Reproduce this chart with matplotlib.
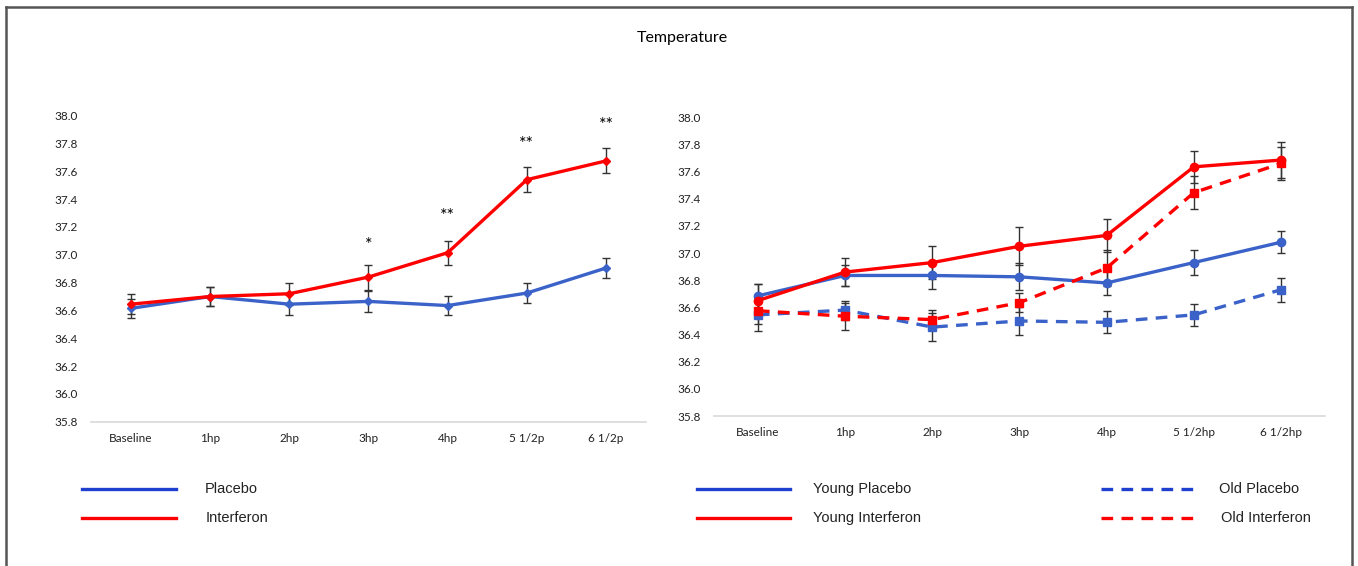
import numpy as np
import matplotlib.pyplot as plt
from matplotlib.lines import Line2D

# --- dane ---
left_labels = ['Baseline', '1hp', '2hp', '3hp', '4hp', '5 1/2p', '6 1/2p']
right_labels = ['Baseline', '1hp', '2hp', '3hp', '4hp', '5 1/2hp', '6 1/2hp']

placebo = [36.615, 36.70, 36.645, 36.665, 36.635, 36.725, 36.905]
placebo_err = [0.07, 0.07, 0.075, 0.075, 0.07, 0.07, 0.07]
interferon = [36.645, 36.70, 36.72, 36.84, 37.015, 37.54, 37.675]
interferon_err = [0.07, 0.07, 0.08, 0.09, 0.085, 0.09, 0.09]
stars = ['', '', '', '*', '**', '**', '**']
star_y = [0, 0, 0, 37.07, 37.28, 37.80, 37.93]

young_placebo = [36.685, 36.835, 36.835, 36.825, 36.78, 36.93, 37.08]
young_placebo_err = [0.09, 0.08, 0.10, 0.10, 0.09, 0.09, 0.08]
young_interferon = [36.65, 36.86, 36.93, 37.05, 37.13, 37.635, 37.685]
young_interferon_err = [0.12, 0.10, 0.12, 0.14, 0.12, 0.12, 0.13]
old_placebo = [36.545, 36.58, 36.455, 36.50, 36.49, 36.545, 36.73]
old_placebo_err = [0.12, 0.07, 0.10, 0.10, 0.08, 0.08, 0.09]
old_interferon = [36.575, 36.535, 36.51, 36.635, 36.89, 37.445, 37.66]
old_interferon_err = [0.10, 0.10, 0.07, 0.07, 0.13, 0.12, 0.12]

yticks = np.arange(35.8, 38.01, 0.2)

BLUE = '#3a62c8'
BLUE_LEG = '#1f3fcf'
RED = '#ff0000'
tick_font = 'Lato'
leg_font = 'Liberation Sans'

fig = plt.figure(figsize=(13.58, 5.66), dpi=100)

ax1 = fig.add_axes([0.0673, 0.2549, 0.4081, 0.5407])
ax2 = fig.add_axes([0.5260, 0.2650, 0.4494, 0.5278])


def styl(ax, labels):
    ax.set_xlim(-0.5, len(labels) - 0.5)
    ax.set_ylim(35.8, 38.0)
    ax.set_yticks(yticks)
    ax.set_yticklabels([f'{v:.1f}' for v in yticks], fontfamily=tick_font, fontsize=8.5, color='#222222')
    ax.set_xticks(range(len(labels)))
    ax.set_xticklabels(labels, fontfamily=tick_font, fontsize=8.5, color='#222222')
    ax.tick_params(length=0, pad=8, axis='x')
    ax.tick_params(length=0, pad=10, axis='y')
    for s in ['top', 'right', 'left']:
        ax.spines[s].set_visible(False)
    ax.spines['bottom'].set_color('#d9d9d9')
    ax.spines['bottom'].set_linewidth(1.2)


def seria(ax, y, err, color, marker, ms, ls='-', dash=None):
    x = np.arange(len(y))
    ax.errorbar(x, y, yerr=err, fmt='none', ecolor='#333333', elinewidth=1, capsize=3, capthick=1, zorder=2)
    line, = ax.plot(x, y, color=color, lw=2.4, ls=ls, marker=marker, ms=ms,
                    markerfacecolor=color, markeredgecolor=color, zorder=3)
    if dash is not None:
        line.set_dashes(dash)


# lewy wykres
styl(ax1, left_labels)
seria(ax1, placebo, placebo_err, BLUE, 'D', 4)
seria(ax1, interferon, interferon_err, RED, 'D', 4)
for i, s in enumerate(stars):
    if s:
        ax1.text(i, star_y[i], s, ha='center', va='center', fontsize=13, fontfamily=tick_font)

# prawy wykres
styl(ax2, right_labels)
seria(ax2, young_placebo, young_placebo_err, BLUE, 'o', 6)
seria(ax2, young_interferon, young_interferon_err, RED, 'o', 6)
seria(ax2, old_placebo, old_placebo_err, BLUE, 's', 5.5, ls='--', dash=(3.5, 2.5))
seria(ax2, old_interferon, old_interferon_err, RED, 's', 5.5, ls='--', dash=(3.5, 2.5))

# tytul
fig.text(682 / 1358, 1 - 38 / 566, 'Temperature', ha='center', va='center', fontsize=11.5, fontfamily=tick_font)

# legenda (rysowana recznie)
W, H = 1358, 566


def leg(x0, x1, y, color, text, tx, dashed=False):
    ln = Line2D([x0 / W, x1 / W], [1 - y / H, 1 - y / H], color=color, lw=2.4, transform=fig.transFigure)
    if dashed:
        ln.set_dashes((3.5, 2.5))
    fig.add_artist(ln)
    fig.text(tx / W, 1 - y / H, text, ha='left', va='center', fontsize=10.5, fontfamily=leg_font, color='#222222')


leg(82, 176, 489, BLUE_LEG, 'Placebo', 205)
leg(82, 176, 518, RED, 'Interferon', 206)
leg(697, 790, 489, BLUE_LEG, 'Young Placebo', 813)
leg(697, 790, 518, RED, 'Young Interferon', 813)
leg(1101, 1195, 489, BLUE_LEG, 'Old Placebo', 1219, dashed=True)
leg(1101, 1195, 518, RED, 'Old Interferon', 1221, dashed=True)

# ramka
for xs, ys in [([6, 1352], [7, 7]), ([6, 6], [7, 566]), ([1352, 1352], [7, 566])]:
    fig.add_artist(Line2D([x / W for x in xs], [1 - y / H for y in ys], color='#555555', lw=1.8,
                          transform=fig.transFigure))

fig.savefig('out.png', dpi=100)
